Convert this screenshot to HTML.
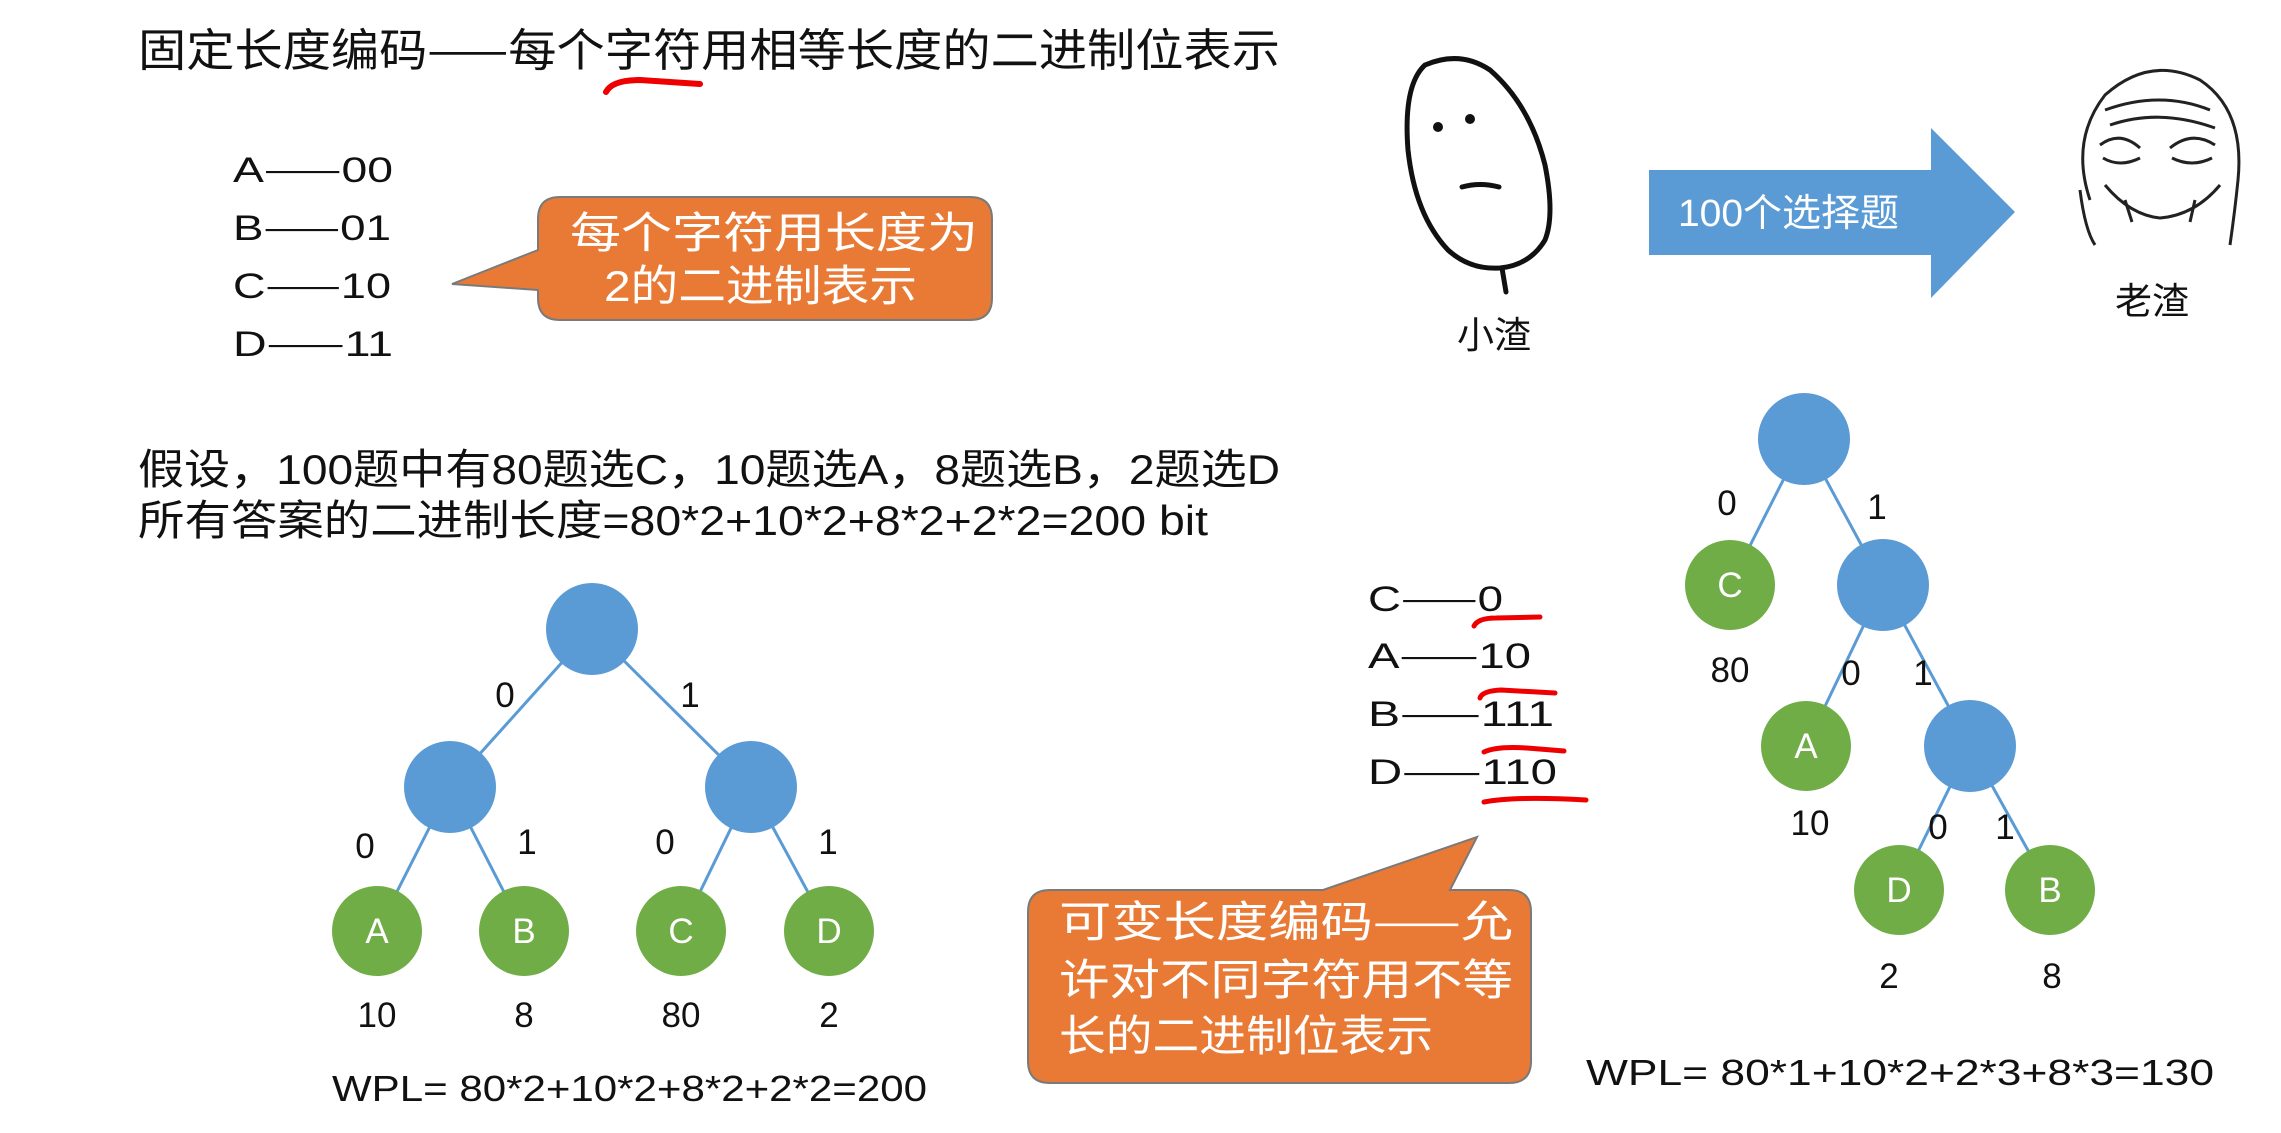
<!DOCTYPE html>
<html><head><meta charset="utf-8"><style>
html,body{margin:0;padding:0;background:#fff;}
svg{display:block;}
text{font-family:"Liberation Sans","Noto Sans CJK SC",sans-serif;fill:#111;}
.w{fill:#fff;}
.d{font-family:"Noto Sans CJK SC",sans-serif;}
</style></head><body>
<svg width="2281" height="1133" viewBox="0 0 2281 1133" xmlns="http://www.w3.org/2000/svg">
<!-- title -->
<text x="138" y="66" font-size="45" textLength="1142" lengthAdjust="spacingAndGlyphs">固定长度编码<tspan class="d">——</tspan>每个字符用相等长度的二进制位表示</text>
<path d="M606 92 Q612 80 640 80 L700 84" stroke="#e00" stroke-width="6" fill="none" stroke-linecap="round"/>
<!-- codes -->
<g font-size="35">
<text x="233" y="182" textLength="160" lengthAdjust="spacingAndGlyphs">A<tspan class="d">——</tspan>00</text>
<text x="233" y="240" textLength="158" lengthAdjust="spacingAndGlyphs">B<tspan class="d">——</tspan>01</text>
<text x="233" y="298" textLength="158" lengthAdjust="spacingAndGlyphs">C<tspan class="d">——</tspan>10</text>
<text x="233" y="356" textLength="160" lengthAdjust="spacingAndGlyphs">D<tspan class="d">——</tspan>11</text>
</g>
<!-- callout 1 -->
<path d="M560 197 H970 Q992 197 992 219 V298 Q992 320 970 320 H560 Q538 320 538 298 V290 L452 284 L538 250 V219 Q538 197 560 197 Z" fill="#e97a35" stroke="#7a7a7a" stroke-width="2"/>
<text x="570" y="248" font-size="43" class="w" textLength="408" lengthAdjust="spacingAndGlyphs">每个字符用长度为</text>
<text x="604" y="301" font-size="43" class="w" textLength="313" lengthAdjust="spacingAndGlyphs">2的二进制表示</text>
<!-- paragraph -->
<text x="138" y="484" font-size="42" textLength="1142" lengthAdjust="spacingAndGlyphs">假设，100题中有80题选C，10题选A，8题选B，2题选D</text>
<text x="138" y="535" font-size="42" textLength="1070" lengthAdjust="spacingAndGlyphs">所有答案的二进制长度=80*2+10*2+8*2+2*2=200 bit</text>
<!-- left tree -->
<g stroke="#5b9bd5" stroke-width="3">
<line x1="592" y1="629" x2="450" y2="787"/><line x1="592" y1="629" x2="751" y2="787"/>
<line x1="450" y1="787" x2="377" y2="931"/><line x1="450" y1="787" x2="524" y2="931"/>
<line x1="751" y1="787" x2="681" y2="931"/><line x1="751" y1="787" x2="829" y2="931"/>
</g>
<g fill="#5b9bd5"><circle cx="592" cy="629" r="46"/><circle cx="450" cy="787" r="46"/><circle cx="751" cy="787" r="46"/></g>
<g fill="#70ad47"><circle cx="377" cy="931" r="45"/><circle cx="524" cy="931" r="45"/><circle cx="681" cy="931" r="45"/><circle cx="829" cy="931" r="45"/></g>
<g font-size="35" text-anchor="middle">
<text x="377" y="943" class="w">A</text><text x="524" y="943" class="w">B</text><text x="681" y="943" class="w">C</text><text x="829" y="943" class="w">D</text>
<text x="505" y="707">0</text><text x="690" y="707">1</text>
<text x="365" y="858">0</text><text x="527" y="854">1</text><text x="665" y="854">0</text><text x="828" y="854">1</text>
<text x="377" y="1027">10</text><text x="524" y="1027">8</text><text x="681" y="1027">80</text><text x="829" y="1027">2</text>
</g>
<text x="332" y="1101" font-size="36" textLength="595" lengthAdjust="spacingAndGlyphs">WPL= 80*2+10*2+8*2+2*2=200</text>
<!-- face 1 -->
<g fill="none" stroke="#111" stroke-width="5" stroke-linecap="round">
<path d="M1425 65 Q1460 50 1490 70 Q1530 105 1545 165 Q1555 215 1545 240 Q1530 265 1500 268 Q1470 270 1448 250 Q1415 215 1408 150 Q1403 85 1425 65 Z"/>
<path d="M1502 268 L1506 292"/>
<path d="M1462 187 Q1480 182 1499 187"/>
</g>
<circle cx="1438" cy="127" r="5" fill="#111"/><circle cx="1470" cy="119" r="5" fill="#111"/>
<text x="1494" y="348" font-size="37" text-anchor="middle">小渣</text>
<!-- face 2 -->
<g fill="none" stroke="#222" stroke-width="3">
<path d="M2090 200 Q2070 140 2105 95 Q2150 55 2200 80 Q2245 110 2238 180 Q2235 210 2230 245"/>
<path d="M2080 190 Q2085 230 2095 245"/>
<path d="M2105 110 Q2160 90 2210 110 M2110 125 Q2160 108 2215 128"/>
<path d="M2100 145 Q2120 130 2140 148 M2170 148 Q2192 130 2215 145"/>
<path d="M2103 158 Q2120 168 2140 158 M2172 158 Q2192 168 2212 158"/>
<path d="M2105 185 Q2130 215 2160 218 Q2195 215 2220 185"/>
<path d="M2125 200 L2132 222 M2195 200 L2190 222"/>
</g>
<text x="2152" y="314" font-size="37" text-anchor="middle">老渣</text>
<!-- arrow -->
<path d="M1649 170 H1931 V128 L2015 212 L1931 298 V255 H1649 Z" fill="#5b9bd5"/>
<text x="1678" y="226" font-size="38" class="w" textLength="221" lengthAdjust="spacingAndGlyphs">100个选择题</text>
<!-- right codes -->
<g font-size="35">
<text x="1368" y="611" textLength="135" lengthAdjust="spacingAndGlyphs">C<tspan class="d">——</tspan>0</text>
<text x="1368" y="668" textLength="163" lengthAdjust="spacingAndGlyphs">A<tspan class="d">——</tspan>10</text>
<text x="1368" y="726" textLength="186" lengthAdjust="spacingAndGlyphs">B<tspan class="d">——</tspan>111</text>
<text x="1368" y="784" textLength="189" lengthAdjust="spacingAndGlyphs">D<tspan class="d">——</tspan>110</text>
</g>
<g stroke="#e00" stroke-width="5" fill="none" stroke-linecap="round">
<path d="M1474 626 Q1478 618 1496 618 L1540 617"/>
<path d="M1480 698 Q1482 691 1501 690 L1555 693"/>
<path d="M1484 752 Q1497 746 1527 748 L1564 751"/>
<path d="M1484 802 Q1515 796 1586 800"/>
</g>
<!-- callout 2 -->
<path d="M1050 890 H1323 L1477 837 L1450 890 H1509 Q1531 890 1531 912 V1061 Q1531 1083 1509 1083 H1050 Q1028 1083 1028 1061 V912 Q1028 890 1050 890 Z" fill="#e97a35" stroke="#7a7a7a" stroke-width="2"/>
<text x="1059" y="937" font-size="43" class="w" textLength="454" lengthAdjust="spacingAndGlyphs">可变长度编码<tspan class="d w">——</tspan>允</text>
<text x="1059" y="995" font-size="43" class="w" textLength="454" lengthAdjust="spacingAndGlyphs">许对不同字符用不等</text>
<text x="1059" y="1051" font-size="43" class="w" textLength="374" lengthAdjust="spacingAndGlyphs">长的二进制位表示</text>
<!-- right tree -->
<g stroke="#5b9bd5" stroke-width="3">
<line x1="1804" y1="439" x2="1730" y2="585"/><line x1="1804" y1="439" x2="1883" y2="585"/>
<line x1="1883" y1="585" x2="1806" y2="746"/><line x1="1883" y1="585" x2="1970" y2="746"/>
<line x1="1970" y1="746" x2="1899" y2="890"/><line x1="1970" y1="746" x2="2050" y2="890"/>
</g>
<g fill="#5b9bd5"><circle cx="1804" cy="439" r="46"/><circle cx="1883" cy="585" r="46"/><circle cx="1970" cy="746" r="46"/></g>
<g fill="#70ad47"><circle cx="1730" cy="585" r="45"/><circle cx="1806" cy="746" r="45"/><circle cx="1899" cy="890" r="45"/><circle cx="2050" cy="890" r="45"/></g>
<g font-size="35" text-anchor="middle">
<text x="1730" y="597" class="w">C</text><text x="1806" y="758" class="w">A</text><text x="1899" y="902" class="w">D</text><text x="2050" y="902" class="w">B</text>
<text x="1727" y="515">0</text><text x="1877" y="519">1</text>
<text x="1730" y="682">80</text>
<text x="1851" y="685">0</text><text x="1923" y="685">1</text>
<text x="1810" y="835">10</text>
<text x="1938" y="839">0</text><text x="2005" y="839">1</text>
<text x="1889" y="988">2</text><text x="2052" y="988">8</text>
</g>
<text x="1586" y="1085" font-size="36" textLength="628" lengthAdjust="spacingAndGlyphs">WPL= 80*1+10*2+2*3+8*3=130</text>
</svg>
</body></html>
